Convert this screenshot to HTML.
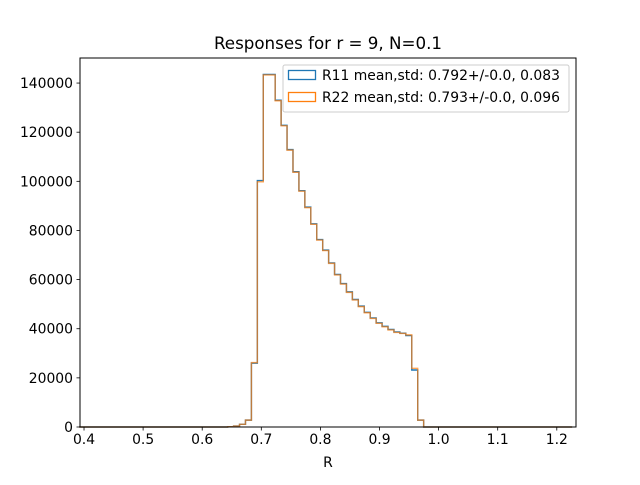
<!DOCTYPE html>
<html><head><meta charset="utf-8"><style>
body{margin:0;background:#fff}
svg{font-family:"DejaVu Sans","Liberation Sans",sans-serif}
</style></head><body>
<svg id="chart" width="640" height="480" viewBox="0 0 640 480" xmlns="http://www.w3.org/2000/svg">
<rect x="0" y="0" width="640" height="480" fill="#fff"/>
<text x="328" y="49" font-size="16.7" text-anchor="middle">Responses for r = 9, N=0.1</text>
<g id="plot"></g>
</svg>
<script>
const binStart = 0.3918;
const binWidth = 0.01005;
const r11Counts = [0,0,0,0,0,0,0,0,0,0,0,0,0,0,0,0,0,0,0,0,0,0,0,0,0,100,400,1100,2800,26000,100300,143500,143500,133000,122800,112900,103900,96200,89500,82700,76300,72000,66800,62100,58400,55000,51900,49200,46700,44400,42400,41000,39700,38700,38200,37200,23200,2800];
const r22Counts = [0,0,0,0,0,0,0,0,0,0,0,0,0,0,0,0,0,0,0,0,0,0,0,0,0,100,400,1100,2800,26200,99800,143300,143300,132800,122600,112700,103700,96000,89300,82500,76100,71800,66600,61900,58200,54800,51700,49000,46500,44200,42200,40800,39500,38500,38100,37500,23900,2800];
const nBins = 83;
const xTicks = [0.4,0.5,0.6,0.7,0.8,0.9,1.0,1.1,1.2];
const yTicks = [0,20000,40000,60000,80000,100000,120000,140000];
const xLabel = "R";
const legendLabels = ["R11 mean,std: 0.792+/-0.0, 0.083","R22 mean,std: 0.793+/-0.0, 0.096"];

const L=80,R=576,T=58,B=427;
const xMin=0.3932,xMax=1.2325,yMin=0,yMax=150200;
const xs=v=>L+(v-xMin)/(xMax-xMin)*(R-L);
const ys=v=>B-(v-yMin)/(yMax-yMin)*(B-T);
const NS="http://www.w3.org/2000/svg";
const g=document.getElementById('plot');
function mk(tag,attrs){const e=document.createElementNS(NS,tag);for(const k in attrs)e.setAttribute(k,attrs[k]);g.appendChild(e);return e;}

function stepPath(counts){
  let d="M"+xs(binStart)+","+ys(0);
  for(let i=0;i<nBins;i++){
    const c=counts[i]||0;
    const x0=xs(binStart+i*binWidth),x1=xs(binStart+(i+1)*binWidth);
    d+=" L"+x0+","+ys(c)+" L"+x1+","+ys(c);
  }
  d+=" L"+xs(binStart+nBins*binWidth)+","+ys(0);
  return d;
}
const p1=mk('path',{d:stepPath(r11Counts),fill:'none',stroke:'#1f77b4','stroke-width':1.4});


const p2=mk('path',{d:stepPath(r22Counts),fill:'none',stroke:'#ff7f0e','stroke-width':1.4,'stroke-opacity':0.7});



const frame=mk('rect',{x:L,y:T,width:R-L,height:B-T,fill:'none',stroke:'#000','stroke-width':1});



xTicks.forEach(v=>{
  const x=xs(v);
  const t=mk('line',{x1:x,x2:x,y1:B,y2:B+3.5,stroke:'#000','stroke-width':0.8});
  
  
  const l=mk('text',{x:x,y:B+17,'font-size':13.9,'text-anchor':'middle'});
  l.textContent=v.toFixed(1);
  
  
});
yTicks.forEach(v=>{
  const y=ys(v);
  const t=mk('line',{x1:L-3.5,x2:L,y1:y,y2:y,stroke:'#000','stroke-width':0.8});
  
  
  const l=mk('text',{x:L-7,y:y+5,'font-size':13.9,'text-anchor':'end'});
  l.textContent=String(v);
  
  
});
const xl=mk('text',{x:(L+R)/2,y:467,'font-size':13.9,'text-anchor':'middle'});
xl.textContent=xLabel;



const lb=mk('rect',{x:283,y:65,width:286,height:47,rx:2,fill:'#fff','fill-opacity':0.8,stroke:'#ccc','stroke-width':1});


const cols=['#1f77b4','#ff7f0e'];
legendLabels.forEach((s,i)=>{
  const y=70+i*22;
  const r=mk('rect',{x:288.5,y:y+0.5,width:27,height:9,fill:'none',stroke:cols[i],'stroke-width':1.3});
  
  
  const t=mk('text',{x:322,y:y+10,'font-size':13.9});
  t.textContent=s;
  
  
});
</script>
</body></html>
